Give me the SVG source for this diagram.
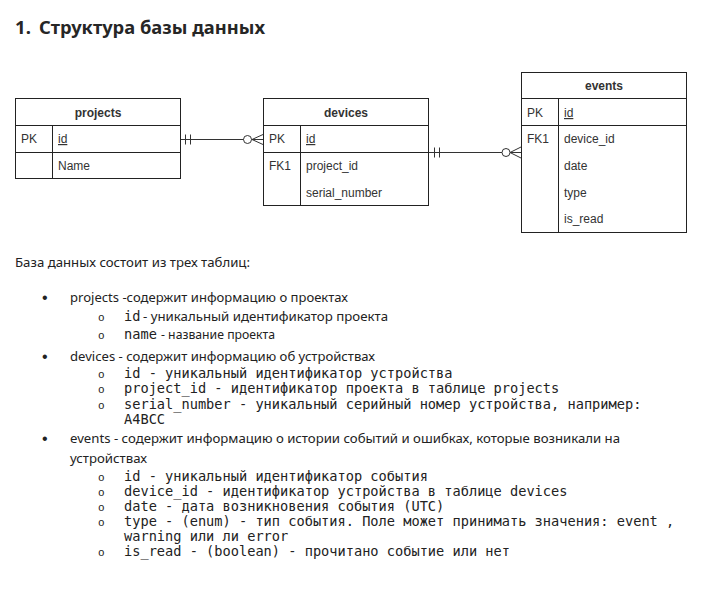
<svg xmlns="http://www.w3.org/2000/svg" width="726" height="606" viewBox="0 0 726 606">
<style>
.bg{fill:#ffffff}
.box{fill:#ffffff;stroke:#222222;stroke-width:1}
.ln{stroke:#222222;stroke-width:1;fill:none}
.conn{stroke:#333333;stroke-width:1;fill:none}
.dot{fill:#ffffff;stroke:#333333;stroke-width:1}
.t{font-family:"Liberation Sans",Arial,sans-serif;font-size:12px;fill:#333333}
.h{font-family:"Liberation Sans",Arial,sans-serif;font-size:12px;font-weight:bold;fill:#333333;text-anchor:middle}
.u{text-decoration:underline}
.title{font-family:"Noto Sans","Open Sans",sans-serif;font-size:18.6px;font-weight:bold;fill:#262626}
.s{font-family:"Noto Sans","Open Sans",sans-serif;font-size:12.5px;fill:#222222}
.m{font-family:"DejaVu Sans Mono","Liberation Mono",monospace;font-size:13.65px;fill:#222222}
.b1{font-family:"Liberation Sans",Arial,sans-serif;font-size:16px;fill:#222222}
.b2{font-family:"Liberation Mono","Courier New",monospace;font-size:11px;fill:#222222}
</style>
<rect class="bg" x="0" y="0" width="726" height="606"/>

<g id="title">
<text class="title" x="15" y="34">1.</text>
<text class="title" x="39" y="34" textLength="226" lengthAdjust="spacingAndGlyphs">Структура базы данных</text>
</g>

<g id="projects">
<rect class="box" x="15.5" y="98.5" width="165" height="80"/>
<line class="ln" x1="15.5" y1="125.5" x2="180.5" y2="125.5"/>
<line class="ln" x1="15.5" y1="152.5" x2="180.5" y2="152.5"/>
<line class="ln" x1="52.5" y1="125.5" x2="52.5" y2="178.5"/>
<text class="h" x="98" y="117">projects</text>
<text class="t" x="21" y="143">PK</text>
<text class="t u" x="58" y="143">id</text>
<text class="t" x="58" y="170">Name</text>
</g>

<g id="devices">
<rect class="box" x="263.5" y="98.5" width="165" height="107"/>
<line class="ln" x1="263.5" y1="125.5" x2="428.5" y2="125.5"/>
<line class="ln" x1="263.5" y1="152.5" x2="428.5" y2="152.5"/>
<line class="ln" x1="300.5" y1="125.5" x2="300.5" y2="205.5"/>
<text class="h" x="346" y="117">devices</text>
<text class="t" x="269" y="143">PK</text>
<text class="t u" x="306" y="143">id</text>
<text class="t" x="269" y="170">FK1</text>
<text class="t" x="306" y="170">project_id</text>
<text class="t" x="306" y="197">serial_number</text>
</g>

<g id="events">
<rect class="box" x="521.5" y="72.5" width="165" height="160"/>
<line class="ln" x1="521.5" y1="98.5" x2="686.5" y2="98.5"/>
<line class="ln" x1="521.5" y1="125.5" x2="686.5" y2="125.5"/>
<line class="ln" x1="558.5" y1="98.5" x2="558.5" y2="232.5"/>
<text class="h" x="604" y="90">events</text>
<text class="t" x="527" y="117">PK</text>
<text class="t u" x="564" y="117">id</text>
<text class="t" x="527" y="143">FK1</text>
<text class="t" x="564" y="143">device_id</text>
<text class="t" x="564" y="170">date</text>
<text class="t" x="564" y="197">type</text>
<text class="t" x="564" y="223">is_read</text>
</g>

<g id="connectors">
<g id="projects-devices">
<line class="conn" x1="181" y1="139.5" x2="263" y2="139.5"/>
<line class="conn" x1="185.5" y1="134.5" x2="185.5" y2="144.5"/>
<line class="conn" x1="190.5" y1="134.5" x2="190.5" y2="144.5"/>
<line class="conn" x1="252" y1="139.5" x2="263" y2="134.5"/>
<line class="conn" x1="252" y1="139.5" x2="263" y2="144.5"/>
<circle class="dot" cx="247.5" cy="139.5" r="4"/>
</g>
<g id="devices-events">
<line class="conn" x1="429" y1="152.5" x2="521" y2="152.5"/>
<line class="conn" x1="434.5" y1="147.5" x2="434.5" y2="157.5"/>
<line class="conn" x1="439.5" y1="147.5" x2="439.5" y2="157.5"/>
<line class="conn" x1="510" y1="152.5" x2="521" y2="147"/>
<line class="conn" x1="510" y1="152.5" x2="521" y2="158"/>
<circle class="dot" cx="506" cy="152.5" r="4"/>
</g>
</g>

<g id="description">
<text class="s" x="15" y="267" textLength="235" lengthAdjust="spacingAndGlyphs">База данных состоит из трех таблиц:</text>

<text class="b1" x="42" y="303">•</text>
<text class="s" x="70" y="302" textLength="278" lengthAdjust="spacingAndGlyphs">projects -содержит информацию о проектах</text>
<text class="b2" x="98" y="321">o</text>
<text class="m" x="124" y="321">id</text>
<text class="s" x="143" y="321" textLength="245" lengthAdjust="spacingAndGlyphs">- уникальный идентификатор проекта</text>
<text class="b2" x="98" y="339">o</text>
<text class="m" x="124" y="339">name</text>
<text class="s" x="161" y="339" textLength="114" lengthAdjust="spacingAndGlyphs">- название проекта</text>

<text class="b1" x="42" y="362">•</text>
<text class="s" x="70" y="361" textLength="305" lengthAdjust="spacingAndGlyphs">devices - содержит информацию об устройствах</text>
<text class="b2" x="98" y="378">o</text>
<text class="m" x="124" y="378">id - уникальный идентификатор устройства</text>
<text class="b2" x="98" y="393">o</text>
<text class="m" x="124" y="393">project_id - идентификатор проекта в таблице projects</text>
<text class="b2" x="98" y="409">o</text>
<text class="m" x="124" y="409">serial_number - уникальный серийный номер устройства, например:</text>
<text class="m" x="124" y="424">A4BCC</text>

<text class="b1" x="42" y="444">•</text>
<text class="s" x="70" y="443" textLength="550" lengthAdjust="spacingAndGlyphs">events - содержит информацию о истории событий и ошибках, которые возникали на</text>
<text class="s" x="70" y="463" textLength="77" lengthAdjust="spacingAndGlyphs">устройствах</text>
<text class="b2" x="98" y="481">o</text>
<text class="m" x="124" y="481">id - уникальный идентификатор события</text>
<text class="b2" x="98" y="496">o</text>
<text class="m" x="124" y="496">device_id - идентификатор устройства в таблице devices</text>
<text class="b2" x="98" y="511">o</text>
<text class="m" x="124" y="511">date - дата возникновения события (UTC)</text>
<text class="b2" x="98" y="526">o</text>
<text class="m" x="124" y="526">type - (enum) - тип события. Поле может принимать значения: event ,</text>
<text class="m" x="124" y="541">warning или ли error</text>
<text class="b2" x="98" y="556">o</text>
<text class="m" x="124" y="556">is_read - (boolean) - прочитано событие или нет</text>
</g>
</svg>
